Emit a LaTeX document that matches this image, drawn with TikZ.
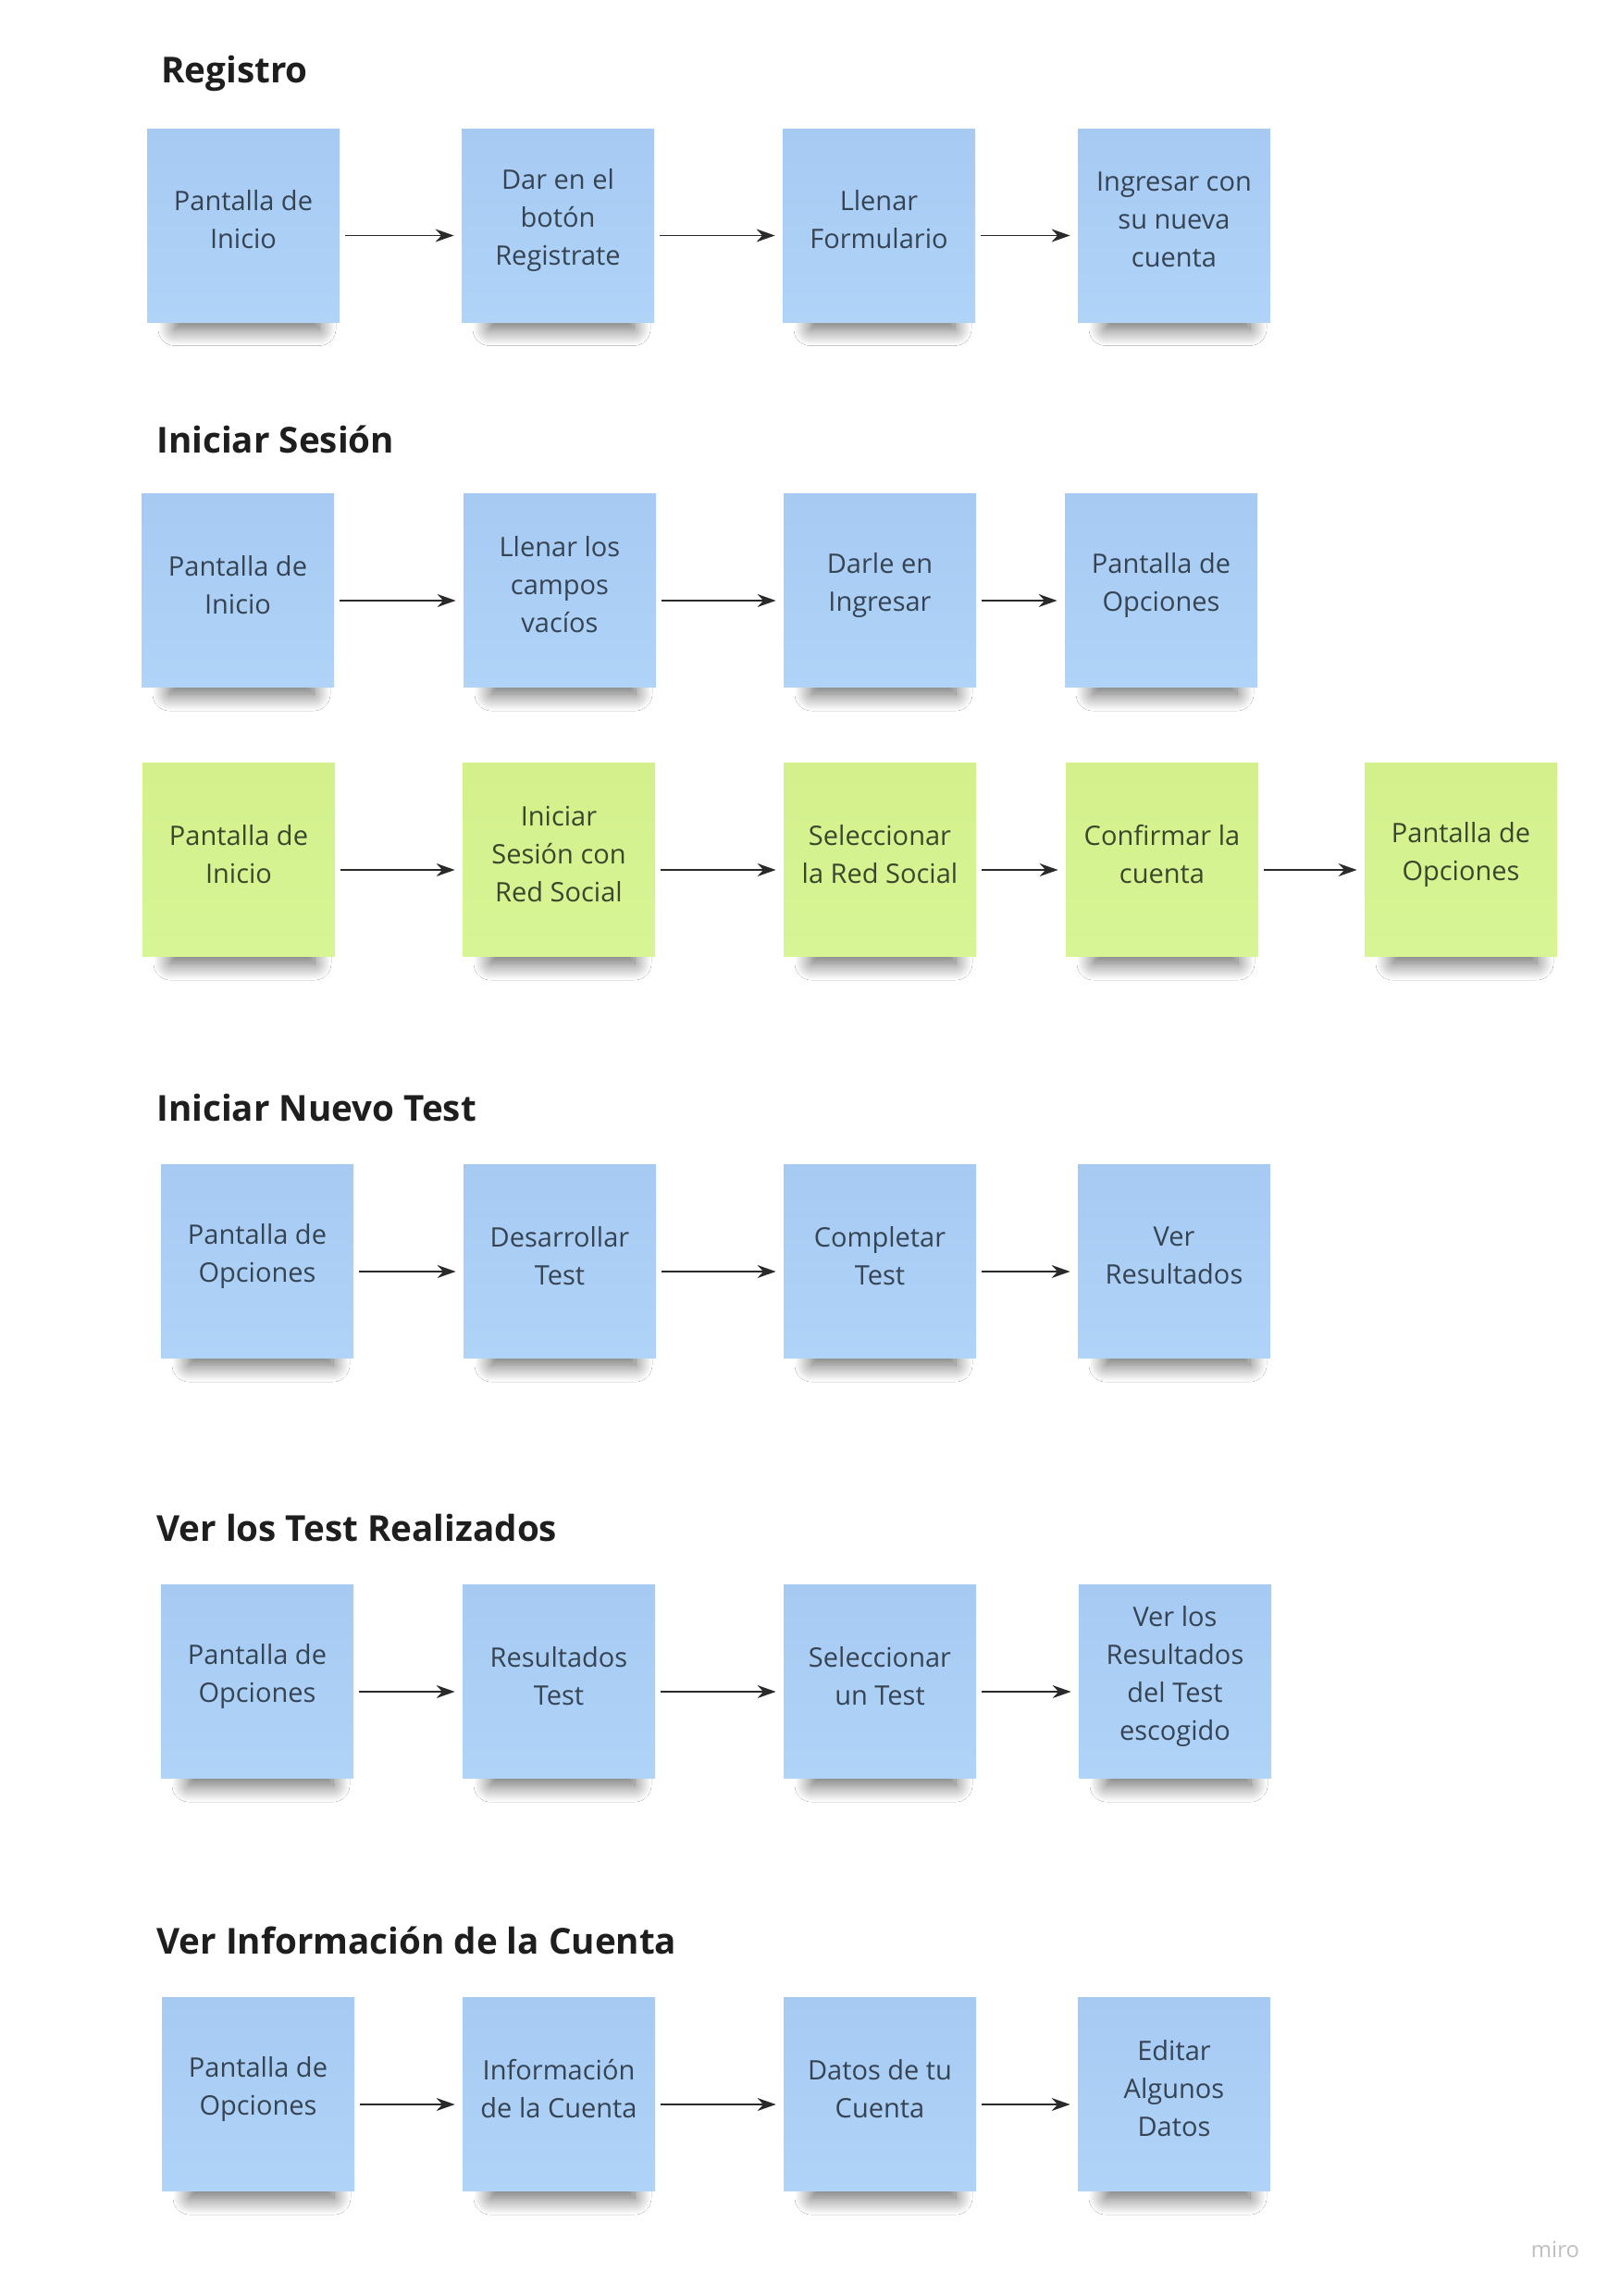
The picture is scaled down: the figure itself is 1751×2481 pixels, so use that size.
\documentclass[tikz,border=0pt]{standalone}
\usepackage{fontspec}
\setmainfont{Open Sans}
\usetikzlibrary{arrows.meta,shadows.blur}
\definecolor{bluetop}{HTML}{A6CAF2}
\definecolor{bluebot}{HTML}{B0D3F8}
\definecolor{greentop}{HTML}{D3F08C}
\definecolor{greenbot}{HTML}{D8F596}
\definecolor{bluetext}{HTML}{364352}
\definecolor{greentext}{HTML}{3B462C}
\definecolor{titletext}{HTML}{1E1E1E}
\definecolor{arrowcol}{HTML}{2A2A2A}
\tikzset{
  stkshadow/.style={rectangle, inner sep=0pt, minimum width=78pt, minimum height=96pt,
    xshift=2pt, yshift=-8pt,
    blur shadow={shadow xshift=0pt, shadow yshift=0pt, shadow blur radius=9pt, shadow blur steps=20, shadow opacity=62}},
  stkbase/.style={rectangle, inner sep=0pt, minimum width=104pt, minimum height=104.5pt},
  bluestk/.style={stkbase, top color=bluetop, bottom color=bluebot},
  greenstk/.style={stkbase, top color=greentop, bottom color=greenbot},
  bluetxt/.style={align=center, text=bluetext, font=\fontsize{14.5}{20.5}\selectfont, inner sep=0pt},
  greentxt/.style={align=center, text=greentext, font=\fontsize{14.5}{20.5}\selectfont, inner sep=0pt},
  sectitle/.style={anchor=west, inner sep=0pt, text=titletext, font=\fontsize{19.3}{23}\selectfont\bfseries},
  flow/.style={-{Stealth[length=10pt,width=7pt]}, draw=arrowcol, line width=0.7pt, shorten <=3pt, shorten >=4pt}
}
\newcommand\bstk[4]{\node[stkshadow] (#1s) at (#2,#3) {};
  \node[bluestk] (#1) at (#2,#3) {};
  \node[bluetxt] (#1t) at ([yshift=3pt]#1.center) {#4};}
\newcommand\gstk[4]{\node[stkshadow] (#1s) at (#2,#3) {};
  \node[greenstk] (#1) at (#2,#3) {};
  \node[greentxt] (#1t) at ([yshift=3pt]#1.center) {#4};}
\newcommand\fl[2]{\draw[flow] ([yshift=-5.5pt]#1.east) -- ([yshift=-5.5pt]#2.west);}
\begin{document}
\begin{tikzpicture}[x=0.5pt,y=-0.5pt]
\useasboundingbox[fill=white] (0,0) rectangle (1751,2481);
% Registro
\node[sectitle] (t1) at (174,79) {Registro};
\bstk{a1}{263}{243.5}{Pantalla de\\Inicio}
\bstk{a2}{603}{243.5}{Dar en el\\botón\\Registrate}
\bstk{a3}{950}{243.5}{Llenar\\Formulario}
\bstk{a4}{1269}{243.5}{Ingresar con\\su nueva\\cuenta}
\fl{a1}{a2}
\fl{a2}{a3}
\fl{a3}{a4}
% Iniciar Sesion
\node[sectitle] (t2) at (169,475) {Iniciar Sesión};
\bstk{b1}{257}{638}{Pantalla de\\Inicio}
\bstk{b2}{605}{638}{Llenar los\\campos\\vacíos}
\bstk{b3}{951}{638}{Darle en\\Ingresar}
\bstk{b4}{1255}{638}{Pantalla de\\Opciones}
\fl{b1}{b2}
\fl{b2}{b3}
\fl{b3}{b4}
\gstk{c1}{258}{929}{Pantalla de\\Inicio}
\gstk{c2}{604}{929}{Iniciar\\Sesión con\\Red Social}
\gstk{c3}{951}{929}{Seleccionar\\la Red Social}
\gstk{c4}{1256}{929}{Confirmar la\\cuenta}
\gstk{c5}{1579}{929}{Pantalla de\\Opciones}
\fl{c1}{c2}
\fl{c2}{c3}
\fl{c3}{c4}
\fl{c4}{c5}
% Iniciar Nuevo Test
\node[sectitle] (t3) at (169,1197) {Iniciar Nuevo Test};
\bstk{d1}{278}{1363}{Pantalla de\\Opciones}
\bstk{d2}{605}{1363}{Desarrollar\\Test}
\bstk{d3}{951}{1363}{Completar\\Test}
\bstk{d4}{1269}{1363}{Ver\\Resultados}
\fl{d1}{d2}
\fl{d2}{d3}
\fl{d3}{d4}
% Ver los Test Realizados
\node[sectitle] (t4) at (169,1651) {Ver los Test Realizados};
\bstk{e1}{278}{1817}{Pantalla de\\Opciones}
\bstk{e2}{604}{1817}{Resultados\\Test}
\bstk{e3}{951}{1817}{Seleccionar\\un Test}
\bstk{e4}{1270}{1817}{Ver los\\Resultados\\del Test\\escogido}
\fl{e1}{e2}
\fl{e2}{e3}
\fl{e3}{e4}
% Ver Informacion de la Cuenta
\node[sectitle] (t5) at (169,2097) {Ver Información de la Cuenta};
\bstk{f1}{279}{2263}{Pantalla de\\Opciones}
\bstk{f2}{604}{2263}{Información\\de la Cuenta}
\bstk{f3}{951}{2263}{Datos de tu\\Cuenta}
\bstk{f4}{1269}{2263}{Editar\\Algunos\\Datos}
\fl{f1}{f2}
\fl{f2}{f3}
\fl{f3}{f4}
% watermark
\node[text=black!25, font=\fontsize{12}{14}\selectfont, inner sep=0pt] (miro) at (1681,2431) {miro};
\end{tikzpicture}
\end{document}
